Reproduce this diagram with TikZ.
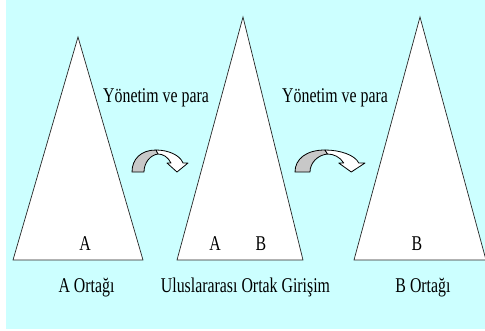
\documentclass[tikz,border=0pt]{standalone}
\usepackage{fontspec}
\setmainfont{Liberation Serif}
\usepackage{xcolor}
\usetikzlibrary{positioning}
\definecolor{sky}{RGB}{204,255,255}
\definecolor{shade}{RGB}{200,200,200}
\newcommand{\narrow}[1]{\scalebox{0.755}[1]{#1}}

\begin{document}
\begin{tikzpicture}[
  x=1pt, y=-1pt,
  tri/.style={draw=black!85, line width=0.7pt, fill=white, line join=miter},
  lbl/.style={font=\fontsize{21}{25}\selectfont, inner sep=0pt, anchor=base},
  turnback/.style={draw=black, line width=0.8pt, fill=shade, line join=round},
  turnfront/.style={draw=black, line width=0.8pt, fill=white, line join=round}
]
  \useasboundingbox (0,0) rectangle (485,330);
  \fill[sky] (6,0) rectangle (485,329);

  % three partners
  \draw[tri] (78,37) -- (143,260) -- (13,260) -- cycle;
  \draw[tri] (243,17) -- (303,260) -- (177,260) -- cycle;
  \draw[tri] (420,17) -- (486,260) -- (354,260) -- cycle;

  \node[lbl] (inA) at (85,250) {\narrow{A}};
  \node[lbl] (jvA) at (215,250) {\narrow{A}};
  \node[lbl] (jvB) at (261,250) {\narrow{B}};
  \node[lbl] (inB) at (417,250) {\narrow{B}};

  \node[lbl] (capA) at (86.5,292) {\narrow{A Ortağı}};
  \node[lbl] (capJV) at (245.5,292) {\narrow{Uluslararası Ortak Girişim}};
  \node[lbl] (capB) at (423,292) {\narrow{B Ortağı}};

  \node[lbl, anchor=base west] (flowL) at (103,102) {\narrow{Yönetim ve para}};
  \node[lbl, anchor=base west] (flowR) at (282,102) {\narrow{Yönetim ve para}};

  % curved arrows
  \foreach \ox/\sx in {132/1, 295/1.25} {
    \begin{scope}[shift={(\ox,172)}, xscale=\sx]
      \draw[turnback] (0,0) .. controls (0,-13) and (9,-22) .. (24,-22)
        -- (26,-18) .. controls (18,-17) and (12,-9) .. (12,0) -- cycle;
      \draw[turnfront] (24,-22) .. controls (36,-22) and (48,-17) .. (51,-9)
        -- (56,-9) -- (45,0) -- (35,-9) -- (39,-9)
        .. controls (36,-15) and (31,-18) .. (26,-18) -- cycle;
    \end{scope}
  }
\end{tikzpicture}
\end{document}
